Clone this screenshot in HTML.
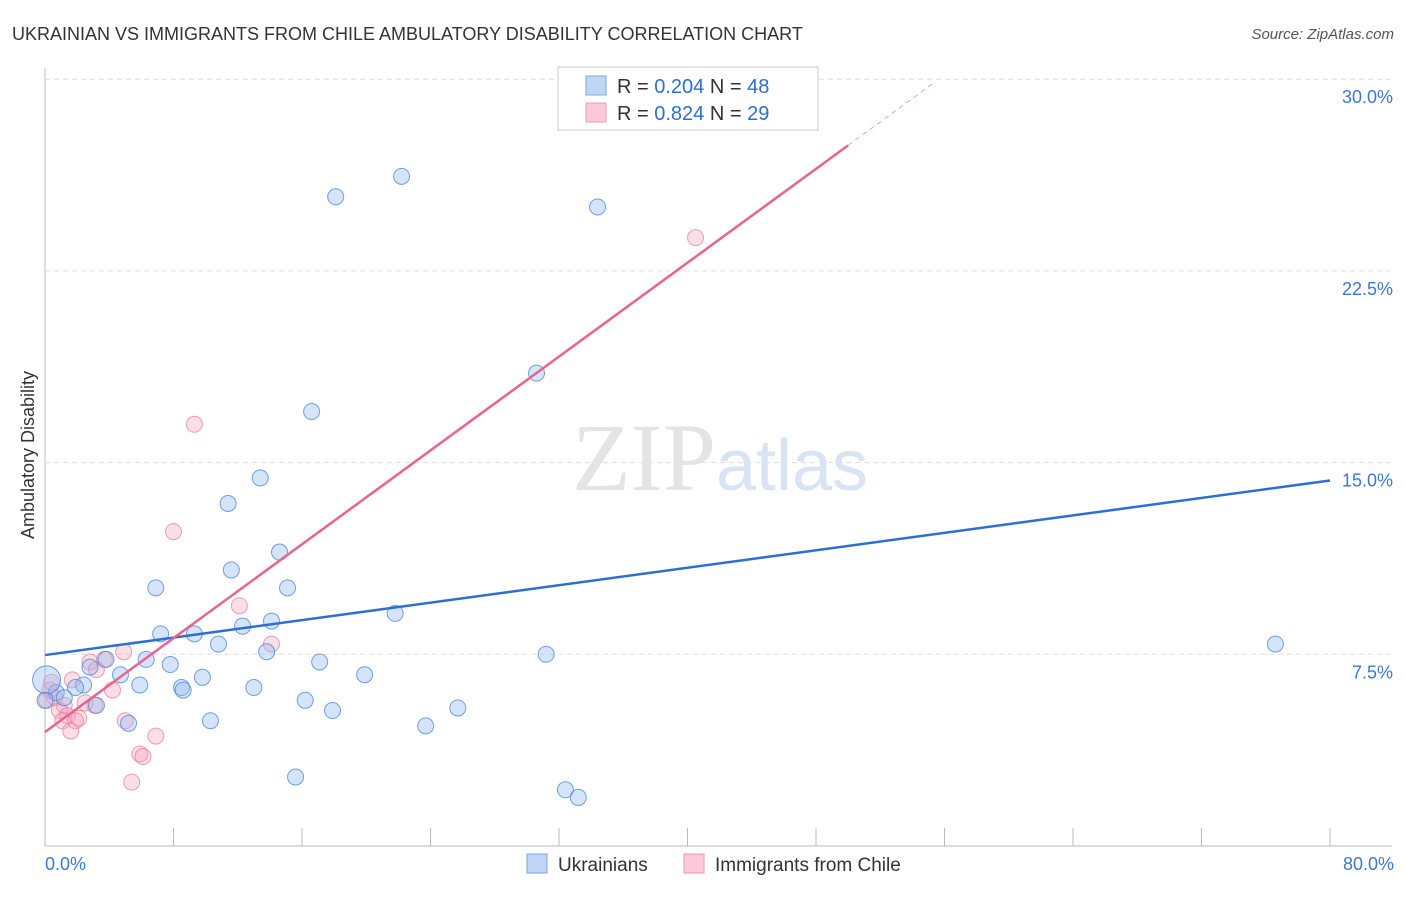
<!DOCTYPE html>
<html><head><meta charset="utf-8"><style>
body{margin:0;background:#fff;font-family:"Liberation Sans",sans-serif;}
</style></head><body>
<svg width="1406" height="892" xmlns="http://www.w3.org/2000/svg" font-family="Liberation Sans, sans-serif">
<text x="12" y="40" font-size="18" fill="#333">UKRAINIAN VS IMMIGRANTS FROM CHILE AMBULATORY DISABILITY CORRELATION CHART</text>
<text x="1394" y="39" font-size="15" fill="#555" text-anchor="end" font-style="italic">Source: ZipAtlas.com</text>
<g id="grid"></g>
<text x="720" y="490" font-size="96" fill="#e4e4e4" text-anchor="middle" font-family="Liberation Serif, serif">ZIP<tspan fill="#d8e4f4" font-family="Liberation Sans, sans-serif" font-size="72">atlas</tspan></text>
<g id="marks"></g>
<text x="34" y="455" font-size="18" fill="#333" text-anchor="middle" transform="rotate(-90 34 455)">Ambulatory Disability</text>
<g>
<rect x="558" y="67" width="260" height="63" fill="#fff" stroke="#ccc"/>
<rect x="586" y="76" width="20" height="19" fill="#c0d6f5" stroke="#7aa6e6"/>
<rect x="586" y="103" width="20" height="19" fill="#fbc9d8" stroke="#ef9ab5"/>
<text x="617" y="93" font-size="20" fill="#333">R = <tspan fill="#2b6fd6">0.204</tspan>   N = <tspan fill="#2b6fd6">48</tspan></text>
<text x="617" y="120" font-size="20" fill="#333">R = <tspan fill="#2b6fd6">0.824</tspan>   N = <tspan fill="#2b6fd6">29</tspan></text>
</g>
<g>
<rect x="527" y="854" width="20" height="19" fill="#c0d6f5" stroke="#7aa6e6"/>
<text x="558" y="871" font-size="19" fill="#333">Ukrainians</text>
<rect x="684" y="854" width="20" height="19" fill="#fbc9d8" stroke="#ef9ab5"/>
<text x="715" y="871" font-size="19" fill="#333">Immigrants from Chile</text>
</g>
</svg>
<script>
const ukrX=[18.1,22.2,34.4,30.6,16.6,13.4,11.4,14.6,11.6,6.9,15.1,21.8,14.1,12.3,7.2,9.3,10.8,13.8,31.2,6.3,17.1,7.8,2.8,3.8,4.7,19.9,9.8,5.9,2.4,8.5,8.6,13.0,1.9,0.7,1.2,16.2,3.2,25.7,17.9,10.3,5.2,23.7,15.6,32.4,33.2,76.6,0.1,0.0];
const ukrY=[25.4,26.2,25.0,18.5,17.0,14.4,13.4,11.5,10.8,10.1,10.1,9.1,8.8,8.6,8.3,8.3,7.9,7.6,7.5,7.3,7.2,7.1,7.0,7.3,6.7,6.7,6.6,6.3,6.3,6.2,6.1,6.2,6.2,6.0,5.8,5.7,5.5,5.4,5.3,4.9,4.8,4.7,2.7,2.2,1.9,7.9,6.5,5.7];
const chlX=[40.5,9.3,8.0,12.1,14.1,4.9,3.7,2.8,3.2,1.7,4.2,0.3,0.6,0.1,1.2,2.5,3.1,0.9,1.4,2.1,1.1,1.9,5.0,1.6,6.9,5.9,6.1,5.4,0.4];
const chlY=[23.8,16.5,12.3,9.4,7.9,7.6,7.3,7.2,6.9,6.5,6.1,6.1,5.8,5.7,5.5,5.6,5.5,5.3,5.1,5.0,4.9,4.9,4.9,4.5,4.3,3.6,3.5,2.5,6.4];
const yTicks=[7.5,15.0,22.5,30.0];
const xTickVals=[0,8,16,24,32,40,48,56,64,72,80];
const ukrLine=[7.47,14.3];      // y at x=0 and x=80
const chlLine=[4.46,0.459];     // intercept, slope
const NS="http://www.w3.org/2000/svg";
const sx=v=>45+v*(1285/80);
const sy=v=>846-v*(766.8/30);
function mk(t,a,p){const e=document.createElementNS(NS,t);for(const k in a)e.setAttribute(k,a[k]);p.appendChild(e);return e;}
const g=document.getElementById('grid'),m=document.getElementById('marks');
mk('line',{x1:45,y1:68,x2:45,y2:846,stroke:'#bbb'},g);
mk('line',{x1:45,y1:846,x2:1392,y2:846,stroke:'#bbb'},g);
yTicks.forEach(v=>{
 const l=mk('line',{x1:45,y1:sy(v),x2:1392,y2:sy(v),stroke:'#ddd','stroke-dasharray':'5,4'},g);
 
 
 const t=mk('text',{x:1393,y:sy(v)+24,'font-size':18,fill:'#3b78d8','text-anchor':'end'},g);
 t.textContent=v.toFixed(1)+'%';
 
 
});
xTickVals.forEach(v=>{
 const l=mk('line',{x1:sx(v),y1:828,x2:sx(v),y2:846,stroke:'#bbb'},g);
 
 
});
[[0,'0.0%','start',45],[80,'80.0%','end',1394]].forEach(a=>{
 const t=mk('text',{x:a[3],y:870,'font-size':18,fill:'#3b78d8','text-anchor':a[2]},g);
 t.textContent=a[1];
 
 
});
chlX.forEach((x,i)=>{
 const c=mk('circle',{cx:sx(x),cy:sy(chlY[i]),r:8,fill:'rgba(246,160,185,0.35)',stroke:'rgba(232,120,155,0.7)','stroke-width':1},m);
 
 
});
ukrX.forEach((x,i)=>{
 const c=mk('circle',{cx:sx(x),cy:sy(ukrY[i]),r:(i==46?14:8),fill:'rgba(150,190,240,0.4)',stroke:'rgba(70,130,220,0.75)','stroke-width':1},m);
 
 
});
const bl=mk('line',{x1:sx(0),y1:sy(ukrLine[0]),x2:sx(80),y2:sy(ukrLine[1]),stroke:'#2b6fd6','stroke-width':2.5},m);


const pl=mk('line',{x1:sx(0),y1:sy(chlLine[0]),x2:sx(50),y2:sy(chlLine[0]+50*chlLine[1]),stroke:'#e8648f','stroke-width':2.5},m);


const pd=mk('line',{x1:sx(50),y1:sy(chlLine[0]+50*chlLine[1]),x2:sx(55.4),y2:sy(chlLine[0]+55.4*chlLine[1]),stroke:'#f0a0b8','stroke-width':1,'stroke-dasharray':'5,4'},m);


</script>
</body></html>
